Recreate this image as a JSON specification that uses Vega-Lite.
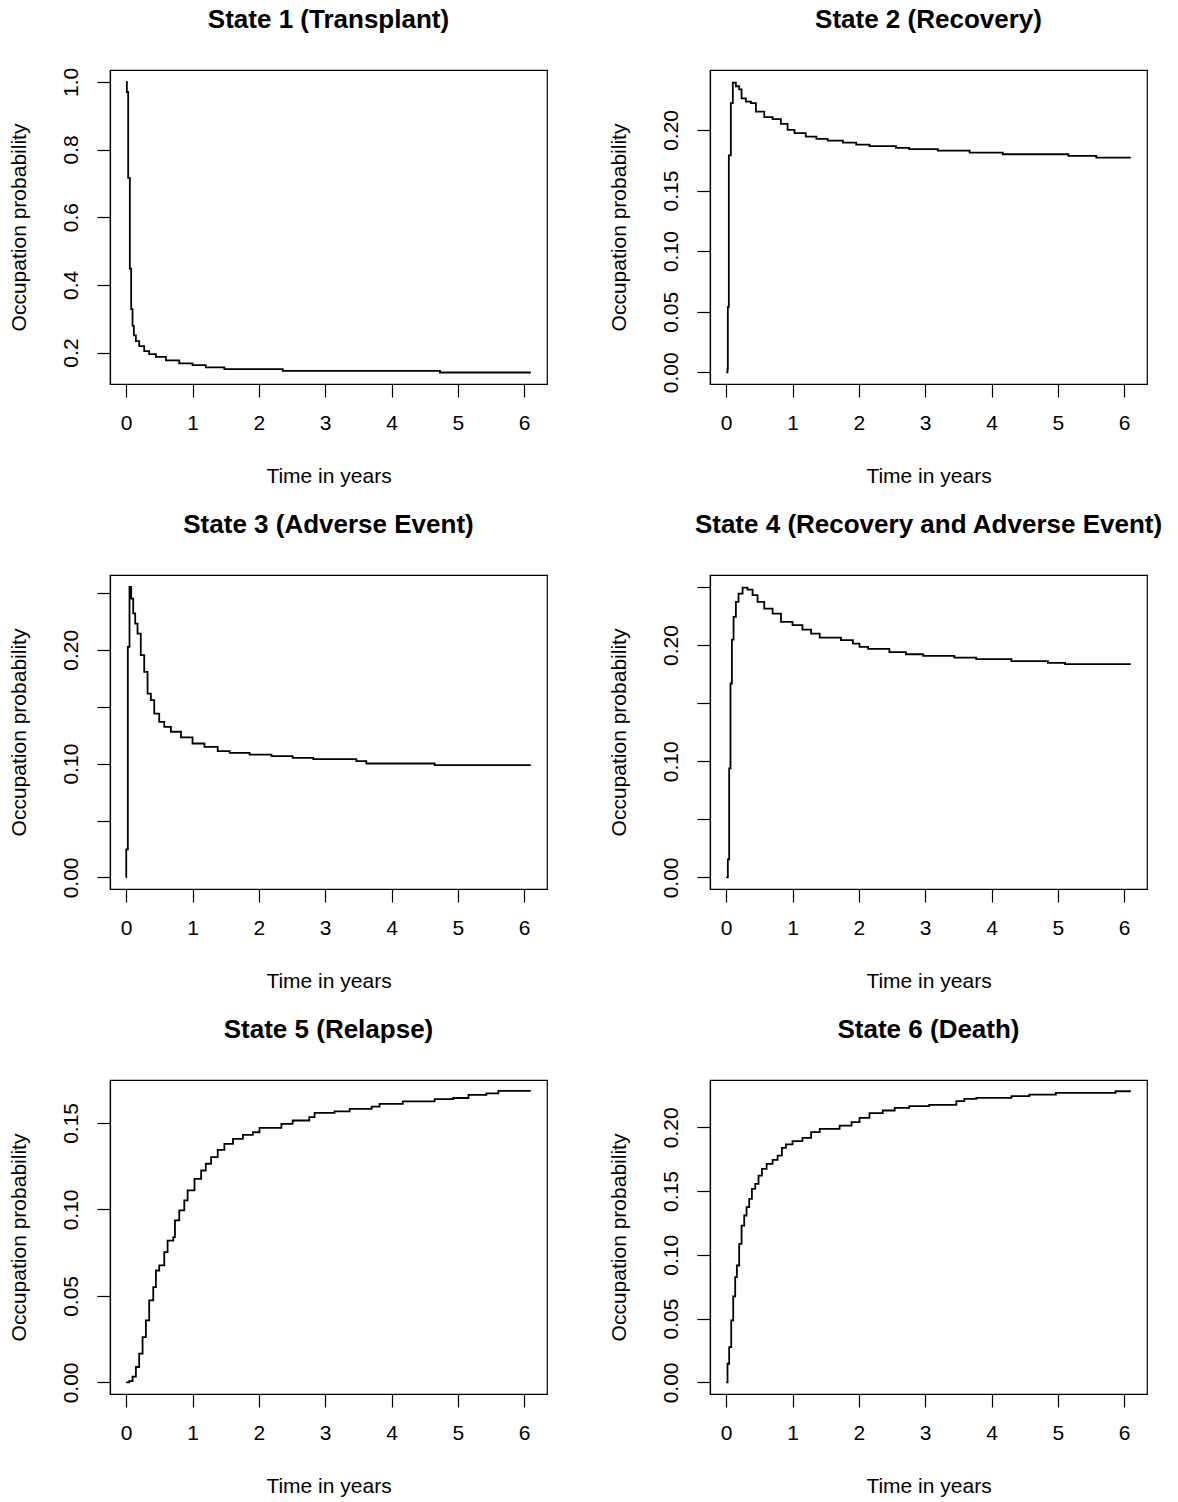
{
  "$schema": "https://vega.github.io/schema/vega-lite/v6.json",
  "background": "white",
  "padding": {"left": 7, "top": 6, "right": 5, "bottom": 5},
  "datasets": {
    "s1": [
      {"t": 0, "p": 1.0}, {"t": 0.01, "p": 0.97}, {"t": 0.03, "p": 0.716}, {"t": 0.055, "p": 0.448},
      {"t": 0.075, "p": 0.328}, {"t": 0.096, "p": 0.279}, {"t": 0.116, "p": 0.251}, {"t": 0.146, "p": 0.234},
      {"t": 0.196, "p": 0.219}, {"t": 0.272, "p": 0.204}, {"t": 0.347, "p": 0.195}, {"t": 0.448, "p": 0.187},
      {"t": 0.599, "p": 0.177}, {"t": 0.8, "p": 0.168}, {"t": 1.0, "p": 0.163}, {"t": 1.2, "p": 0.156},
      {"t": 1.48, "p": 0.151}, {"t": 2.36, "p": 0.146}, {"t": 4.73, "p": 0.141}, {"t": 6.1, "p": 0.141}
    ],
    "s2": [
      {"t": 0, "p": 0.0}, {"t": 0.02, "p": 0.003}, {"t": 0.025, "p": 0.054}, {"t": 0.04, "p": 0.179},
      {"t": 0.07, "p": 0.222}, {"t": 0.1, "p": 0.239}, {"t": 0.146, "p": 0.236}, {"t": 0.196, "p": 0.2335},
      {"t": 0.232, "p": 0.226}, {"t": 0.297, "p": 0.2233}, {"t": 0.373, "p": 0.222}, {"t": 0.448, "p": 0.215},
      {"t": 0.574, "p": 0.2105}, {"t": 0.7, "p": 0.2088}, {"t": 0.825, "p": 0.205}, {"t": 0.926, "p": 0.2},
      {"t": 1.03, "p": 0.1973}, {"t": 1.2, "p": 0.1945}, {"t": 1.36, "p": 0.1926}, {"t": 1.53, "p": 0.1912},
      {"t": 1.76, "p": 0.1895}, {"t": 1.96, "p": 0.1879}, {"t": 2.16, "p": 0.1866}, {"t": 2.56, "p": 0.1852},
      {"t": 2.76, "p": 0.1841}, {"t": 3.19, "p": 0.1829}, {"t": 3.67, "p": 0.1813}, {"t": 4.17, "p": 0.1799},
      {"t": 5.16, "p": 0.1785}, {"t": 5.58, "p": 0.1772}, {"t": 6.1, "p": 0.1772}
    ],
    "s3": [
      {"t": 0, "p": 0.0}, {"t": 0.001, "p": 0.0246}, {"t": 0.025, "p": 0.2026}, {"t": 0.05, "p": 0.2553},
      {"t": 0.076, "p": 0.245}, {"t": 0.106, "p": 0.232}, {"t": 0.136, "p": 0.223}, {"t": 0.171, "p": 0.2143},
      {"t": 0.22, "p": 0.1953}, {"t": 0.272, "p": 0.1807}, {"t": 0.322, "p": 0.1616}, {"t": 0.372, "p": 0.1558},
      {"t": 0.423, "p": 0.144}, {"t": 0.498, "p": 0.1367}, {"t": 0.574, "p": 0.1323}, {"t": 0.674, "p": 0.128},
      {"t": 0.826, "p": 0.123}, {"t": 1.0, "p": 0.1177}, {"t": 1.18, "p": 0.1148}, {"t": 1.38, "p": 0.111},
      {"t": 1.56, "p": 0.1095}, {"t": 1.86, "p": 0.108}, {"t": 2.19, "p": 0.1066}, {"t": 2.51, "p": 0.1051},
      {"t": 2.82, "p": 0.104}, {"t": 3.47, "p": 0.1022}, {"t": 3.62, "p": 0.1001}, {"t": 4.65, "p": 0.0987},
      {"t": 6.1, "p": 0.0987}
    ],
    "s4": [
      {"t": 0, "p": 0.0}, {"t": 0.025, "p": 0.0155}, {"t": 0.045, "p": 0.0938}, {"t": 0.065, "p": 0.1669},
      {"t": 0.086, "p": 0.2047}, {"t": 0.111, "p": 0.2242}, {"t": 0.146, "p": 0.2371}, {"t": 0.186, "p": 0.2443},
      {"t": 0.247, "p": 0.2494}, {"t": 0.322, "p": 0.2477}, {"t": 0.398, "p": 0.2429}, {"t": 0.473, "p": 0.2371},
      {"t": 0.574, "p": 0.2314}, {"t": 0.7, "p": 0.2271}, {"t": 0.826, "p": 0.2199}, {"t": 1.0, "p": 0.2171},
      {"t": 1.15, "p": 0.2133}, {"t": 1.28, "p": 0.2099}, {"t": 1.41, "p": 0.2064}, {"t": 1.73, "p": 0.2042},
      {"t": 1.91, "p": 0.2013}, {"t": 2.01, "p": 0.1984}, {"t": 2.14, "p": 0.1967}, {"t": 2.46, "p": 0.1939},
      {"t": 2.71, "p": 0.1921}, {"t": 2.97, "p": 0.1907}, {"t": 3.44, "p": 0.1892}, {"t": 3.77, "p": 0.1878},
      {"t": 4.3, "p": 0.1861}, {"t": 4.85, "p": 0.1847}, {"t": 5.11, "p": 0.1835}, {"t": 6.1, "p": 0.1835}
    ],
    "s5": [
      {"t": 0, "p": 0.0}, {"t": 0.045, "p": 0.0008}, {"t": 0.096, "p": 0.0034}, {"t": 0.146, "p": 0.0089},
      {"t": 0.196, "p": 0.0166}, {"t": 0.247, "p": 0.0262}, {"t": 0.297, "p": 0.0359}, {"t": 0.347, "p": 0.0474},
      {"t": 0.408, "p": 0.0551}, {"t": 0.448, "p": 0.0647}, {"t": 0.498, "p": 0.0676}, {"t": 0.574, "p": 0.0753},
      {"t": 0.624, "p": 0.082}, {"t": 0.71, "p": 0.084}, {"t": 0.735, "p": 0.0937}, {"t": 0.8, "p": 0.0994},
      {"t": 0.876, "p": 0.1052}, {"t": 0.926, "p": 0.111}, {"t": 1.03, "p": 0.1177}, {"t": 1.13, "p": 0.1225},
      {"t": 1.2, "p": 0.1264}, {"t": 1.28, "p": 0.1302}, {"t": 1.38, "p": 0.1344}, {"t": 1.48, "p": 0.1379},
      {"t": 1.61, "p": 0.1408}, {"t": 1.76, "p": 0.1431}, {"t": 1.91, "p": 0.1446}, {"t": 2.01, "p": 0.1471},
      {"t": 2.34, "p": 0.1494}, {"t": 2.51, "p": 0.1514}, {"t": 2.76, "p": 0.1533}, {"t": 2.84, "p": 0.1558},
      {"t": 3.14, "p": 0.1567}, {"t": 3.37, "p": 0.1581}, {"t": 3.7, "p": 0.1594}, {"t": 3.82, "p": 0.161},
      {"t": 4.17, "p": 0.1625}, {"t": 4.65, "p": 0.1637}, {"t": 4.93, "p": 0.1644}, {"t": 5.16, "p": 0.1662},
      {"t": 5.43, "p": 0.1671}, {"t": 5.61, "p": 0.1685}, {"t": 6.1, "p": 0.1685}
    ],
    "s6": [
      {"t": 0, "p": 0.0}, {"t": 0.02, "p": 0.0146}, {"t": 0.045, "p": 0.0277}, {"t": 0.076, "p": 0.0486},
      {"t": 0.106, "p": 0.0674}, {"t": 0.136, "p": 0.0825}, {"t": 0.161, "p": 0.0916}, {"t": 0.196, "p": 0.1086},
      {"t": 0.232, "p": 0.1229}, {"t": 0.272, "p": 0.1308}, {"t": 0.307, "p": 0.1373}, {"t": 0.347, "p": 0.1438},
      {"t": 0.388, "p": 0.1517}, {"t": 0.438, "p": 0.1556}, {"t": 0.488, "p": 0.1621}, {"t": 0.539, "p": 0.1674},
      {"t": 0.61, "p": 0.1713}, {"t": 0.7, "p": 0.1744}, {"t": 0.775, "p": 0.1778}, {"t": 0.84, "p": 0.1838},
      {"t": 0.9, "p": 0.1865}, {"t": 1.0, "p": 0.1891}, {"t": 1.15, "p": 0.1917}, {"t": 1.28, "p": 0.1961},
      {"t": 1.41, "p": 0.1987}, {"t": 1.71, "p": 0.2013}, {"t": 1.89, "p": 0.204}, {"t": 2.01, "p": 0.2073},
      {"t": 2.16, "p": 0.211}, {"t": 2.36, "p": 0.2131}, {"t": 2.54, "p": 0.2152}, {"t": 2.76, "p": 0.2165},
      {"t": 3.06, "p": 0.2175}, {"t": 3.47, "p": 0.2204}, {"t": 3.59, "p": 0.2222}, {"t": 3.77, "p": 0.223},
      {"t": 4.3, "p": 0.2243}, {"t": 4.57, "p": 0.2256}, {"t": 4.97, "p": 0.2269}, {"t": 5.87, "p": 0.2282},
      {"t": 6.1, "p": 0.2282}
    ]
  },
  "columns": 2,
  "spacing": {"row": 191, "column": 163},
  "bounds": "flush",
  "concat": [
    {
      "title": {"text": "State 1 (Transplant)", "offset": 34},
      "width": 437, "height": 314,
      "data": {"name": "s1"},
      "mark": {"type": "line", "interpolate": "step-after", "color": "black", "strokeWidth": 1.8},
      "encoding": {
        "x": {"field": "t", "type": "quantitative", "scale": {"domain": [-0.244, 6.344], "nice": false, "zero": false}, "axis": {"values": [0, 1, 2, 3, 4, 5, 6], "title": "Time in years"}},
        "y": {"field": "p", "type": "quantitative", "scale": {"domain": [0.107, 1.035], "nice": false, "zero": false}, "axis": {"values": [0.2, 0.4, 0.6, 0.8, 1.0], "format": ".1f", "title": "Occupation probability"}}
      }
    },
    {
      "title": {"text": "State 2 (Recovery)", "offset": 37},
      "width": 437, "height": 314,
      "data": {"name": "s2"},
      "mark": {"type": "line", "interpolate": "step-after", "color": "black", "strokeWidth": 1.8},
      "encoding": {
        "x": {"field": "t", "type": "quantitative", "scale": {"domain": [-0.244, 6.344], "nice": false, "zero": false}, "axis": {"values": [0, 1, 2, 3, 4, 5, 6], "title": "Time in years"}},
        "y": {"field": "p", "type": "quantitative", "scale": {"domain": [-0.0096, 0.2494], "nice": false, "zero": false}, "axis": {"values": [0, 0.05, 0.1, 0.15, 0.2], "format": ".2f", "title": "Occupation probability"}}
      }
    },
    {
      "title": {"text": "State 3 (Adverse Event)", "offset": 37},
      "width": 437, "height": 314,
      "data": {"name": "s3"},
      "mark": {"type": "line", "interpolate": "step-after", "color": "black", "strokeWidth": 1.8},
      "encoding": {
        "x": {"field": "t", "type": "quantitative", "scale": {"domain": [-0.244, 6.344], "nice": false, "zero": false}, "axis": {"values": [0, 1, 2, 3, 4, 5, 6], "title": "Time in years"}},
        "y": {"field": "p", "type": "quantitative", "scale": {"domain": [-0.0102, 0.2658], "nice": false, "zero": false}, "axis": {"values": [0, 0.05, 0.1, 0.15, 0.2, 0.25], "format": ".2f", "labelExpr": "(round(datum.value*100) % 10 == 0) ? datum.label : ''", "title": "Occupation probability"}}
      }
    },
    {
      "title": {"text": "State 4 (Recovery and Adverse Event)", "offset": 37},
      "width": 437, "height": 314,
      "data": {"name": "s4"},
      "mark": {"type": "line", "interpolate": "step-after", "color": "black", "strokeWidth": 1.8},
      "encoding": {
        "x": {"field": "t", "type": "quantitative", "scale": {"domain": [-0.244, 6.344], "nice": false, "zero": false}, "axis": {"values": [0, 1, 2, 3, 4, 5, 6], "title": "Time in years"}},
        "y": {"field": "p", "type": "quantitative", "scale": {"domain": [-0.01, 0.2603], "nice": false, "zero": false}, "axis": {"values": [0, 0.05, 0.1, 0.15, 0.2, 0.25], "format": ".2f", "labelExpr": "(round(datum.value*100) % 10 == 0) ? datum.label : ''", "title": "Occupation probability"}}
      }
    },
    {
      "title": {"text": "State 5 (Relapse)", "offset": 37},
      "width": 437, "height": 314,
      "data": {"name": "s5"},
      "mark": {"type": "line", "interpolate": "step-after", "color": "black", "strokeWidth": 1.8},
      "encoding": {
        "x": {"field": "t", "type": "quantitative", "scale": {"domain": [-0.244, 6.344], "nice": false, "zero": false}, "axis": {"values": [0, 1, 2, 3, 4, 5, 6], "title": "Time in years"}},
        "y": {"field": "p", "type": "quantitative", "scale": {"domain": [-0.0067, 0.1748], "nice": false, "zero": false}, "axis": {"values": [0, 0.05, 0.1, 0.15], "format": ".2f", "title": "Occupation probability"}}
      }
    },
    {
      "title": {"text": "State 6 (Death)", "offset": 37},
      "width": 437, "height": 314,
      "data": {"name": "s6"},
      "mark": {"type": "line", "interpolate": "step-after", "color": "black", "strokeWidth": 1.8},
      "encoding": {
        "x": {"field": "t", "type": "quantitative", "scale": {"domain": [-0.244, 6.344], "nice": false, "zero": false}, "axis": {"values": [0, 1, 2, 3, 4, 5, 6], "title": "Time in years"}},
        "y": {"field": "p", "type": "quantitative", "scale": {"domain": [-0.0091, 0.237], "nice": false, "zero": false}, "axis": {"values": [0, 0.05, 0.1, 0.15, 0.2], "format": ".2f", "title": "Occupation probability"}}
      }
    }
  ],
  "config": {
    "view": {"stroke": "black", "strokeWidth": 1.2},
    "axis": {
      "grid": false, "domainColor": "black", "domainWidth": 1.2, "tickColor": "black", "tickWidth": 1.2, "tickSize": 13,
      "labelColor": "black", "labelFont": "Liberation Sans", "labelFontSize": 21,
      "labelOverlap": false, "labelFlush": false,
      "titleFont": "Liberation Sans", "titleFontSize": 21, "titleFontWeight": "normal", "titleColor": "black"
    },
    "axisX": {"labelPadding": 15, "titlePadding": 32},
    "axisY": {"labelAngle": 270, "labelAlign": "center", "labelBaseline": "bottom", "labelPadding": 16, "titlePadding": 31},
    "title": {"font": "Liberation Sans", "fontSize": 26, "fontWeight": "bold", "color": "black", "frame": "group", "anchor": "middle"}
  }
}
